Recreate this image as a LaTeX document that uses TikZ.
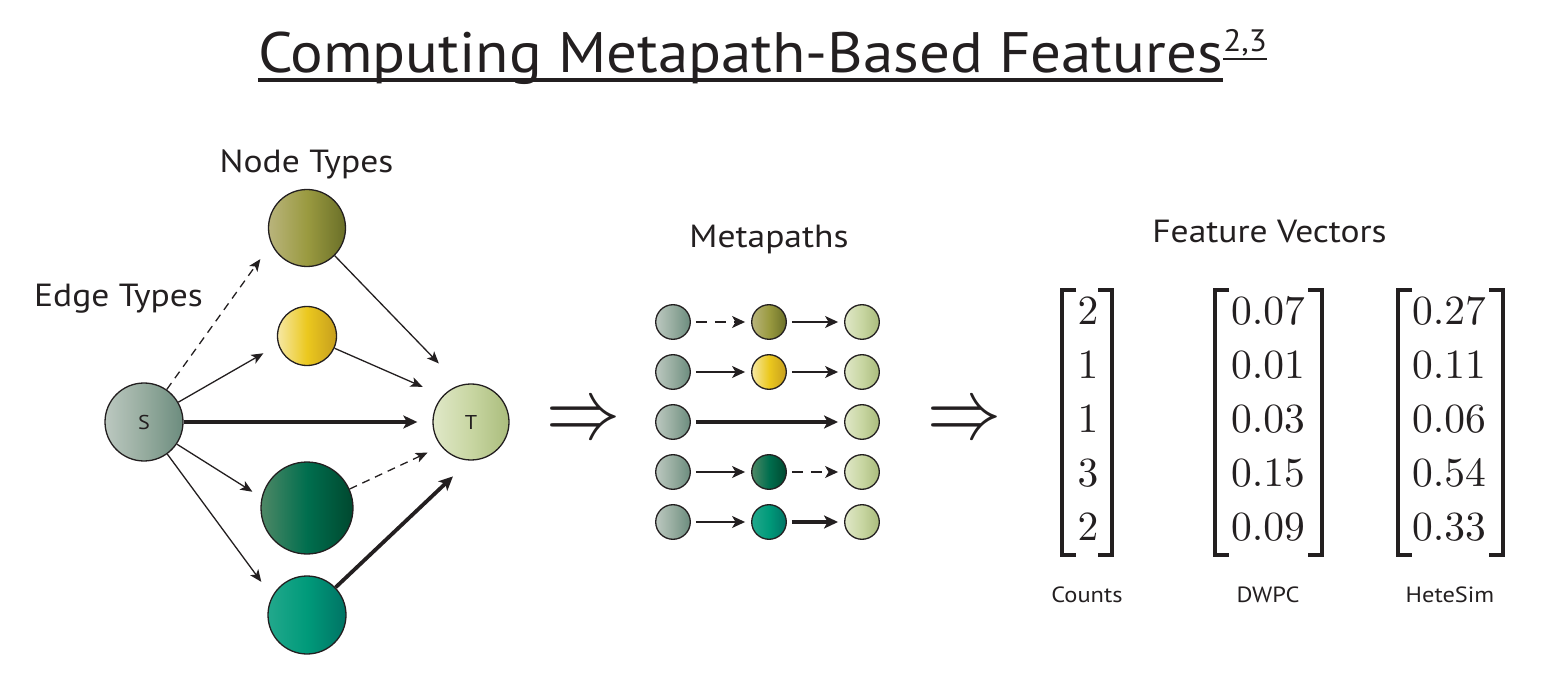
\documentclass[tikz,border=0pt]{standalone}
\usepackage[no-math]{fontspec}
\usepackage{graphicx}
\newfontfamily\lbl[FakeStretch=1.11]{PT Sans}
\newfontfamily\ttl[FakeStretch=1.07]{PT Sans}
\usetikzlibrary{arrows.meta}
\definecolor{sL}{HTML}{BCC8C0}\definecolor{sR}{HTML}{6C8C7E}\definecolor{sM}{HTML}{96AC9F}
\definecolor{oL}{HTML}{B9B47C}\definecolor{oM}{HTML}{9A9A40}\definecolor{oR}{HTML}{6A6F28}
\definecolor{yL}{HTML}{F6E8A4}\definecolor{yM}{HTML}{EBC81E}\definecolor{yR}{HTML}{C69E1E}
\definecolor{gL}{HTML}{4E8866}\definecolor{gM}{HTML}{006E4E}\definecolor{gR}{HTML}{00482F}
\definecolor{cL}{HTML}{22A88C}\definecolor{cM}{HTML}{009A7A}\definecolor{cR}{HTML}{007364}
\definecolor{tL}{HTML}{E0E8C8}\definecolor{tM}{HTML}{C8D6A2}\definecolor{tR}{HTML}{AABC7C}
\definecolor{ink}{HTML}{231F20}
\tikzset{
  nd/.style={circle, draw=ink, line width=1.3pt, inner sep=0pt, font=\lbl\fontsize{20}{20}\selectfont, text=ink},
  sN/.style={nd, left color=sL, right color=sR, middle color=sM},
  oN/.style={nd, left color=oL, right color=oR, middle color=oM},
  yN/.style={nd, left color=yL, right color=yR, middle color=yM},
  gN/.style={nd, left color=gL, right color=gR, middle color=gM},
  cN/.style={nd, left color=cL, right color=cR, middle color=cM},
  tN/.style={nd, left color=tL, right color=tR, middle color=tM},
  thinedge/.style={draw=ink, line width=1.3pt, -{Stealth[length=12pt,width=10pt,inset=3pt]}},
  thickedge/.style={draw=ink, line width=3.8pt, -{Stealth[length=14pt,width=13pt,inset=3.5pt]}},
  dashedge/.style={thinedge, dash pattern=on 8pt off 6pt},
  mpthin/.style={draw=ink, line width=1.3pt, -{Stealth[length=13pt,width=12pt,inset=3.5pt]}},
  mpdash/.style={mpthin, dash pattern=on 11pt off 8pt},
  head/.style={font=\lbl\fontsize{32}{32}\selectfont, text=ink, inner sep=0pt, anchor=base},
  small/.style={font=\lbl\fontsize{22}{22}\selectfont, text=ink, inner sep=0pt, anchor=base},
  num/.style={text=ink, inner sep=0pt, anchor=base},
  brk/.style={draw=ink, line width=4pt, line join=miter},
  impl/.style={text=ink, inner sep=0pt}
}
\newcommand{\vnum}[1]{\scalebox{4.15}{$#1$}}
\begin{document}
\begin{tikzpicture}[x=1pt,y=-1pt]
\useasboundingbox (0,0) rectangle (1545,684);
% title
\node[font=\ttl\fontsize{57}{57}\selectfont, text=ink, inner sep=0pt, anchor=base] (title) at (740.5,73) {Computing Metapath-Based Features};
\node[font=\ttl\fontsize{31}{31}\selectfont, text=ink, inner sep=0pt, anchor=base west] (sup) at ([yshift=21pt]title.base east) {2,3};
\draw[ink, line width=3.5pt] ([yshift=-7pt]title.base west) -- ([yshift=-7pt]title.base east);
\draw[ink, line width=1.2pt] ([yshift=-7pt]sup.base west) -- ([yshift=-7pt]sup.base east);

% headings
\node[head] (nodetypes) at (306.5,173) {Node Types};
\node[head] (edgetypes) at (118.5,307) {Edge Types};
\node[head] (metapaths) at (769,248) {Metapaths};
\node[head] (featvec) at (1269.5,243) {Feature Vectors};

% left graph
\node[sN, minimum size=78pt] (S) at (144,422) {S};
\node[oN, minimum size=77pt] (N1) at (307,228) {};
\node[yN, minimum size=59pt] (N2) at (307,336) {};
\node[gN, minimum size=92pt] (N3) at (307,508) {};
\node[cN, minimum size=78pt] (N4) at (307,615) {};
\node[tN, minimum size=76pt] (T) at (471,422) {T};

\draw[dashedge, shorten >=18.7pt] (S.55) -- (N1.204);
\draw[thinedge, shorten >=17pt] (S.30) -- (N2.197);
\draw[thickedge, shorten >=15pt] (S.0) -- (T.180);
\draw[thinedge, shorten >=10.8pt] (S.-34) -- (N3.167);
\draw[thinedge, shorten >=18pt] (S.-54) -- (N4.152);
\draw[thinedge, shorten >=30pt] (N1.-45) -- (T.107);
\draw[thinedge, shorten >=22pt] (N2.-24) -- (T.137);
\draw[dashedge, shorten >=14.7pt] (N3.24) -- (T.219);
\draw[thickedge, shorten >=23pt] (N4.44) -- (T.268);

% implies
\node[impl] (imp1) at (583.5,422.5) {\scalebox{7.4}[8.6]{$\Rightarrow$}};
\node[impl] (imp2) at (964.5,422.5) {\scalebox{7.4}[8.6]{$\Rightarrow$}};

% metapaths
\tikzset{mp/.style={minimum size=34.6pt}}
\node[sN,mp] (p11) at (673,322) {};
\node[oN,mp] (p12) at (769,322) {};
\node[tN,mp] (p13) at (862,322) {};
\node[sN,mp] (p21) at (673,372) {};
\node[yN,mp] (p22) at (769,372) {};
\node[tN,mp] (p23) at (862,372) {};
\node[sN,mp] (p31) at (673,422) {};
\node[tN,mp] (p33) at (862,422) {};
\node[sN,mp] (p41) at (673,472) {};
\node[gN,mp] (p42) at (769,472) {};
\node[tN,mp] (p43) at (862,472) {};
\node[sN,mp] (p51) at (673,522) {};
\node[cN,mp] (p52) at (769,522) {};
\node[tN,mp] (p53) at (862,522) {};
\begin{scope}[shorten <=5pt, shorten >=6pt]
\draw[mpdash] (p11) -- (p12);
\draw[mpthin] (p12) -- (p13);
\draw[mpthin] (p21) -- (p22);
\draw[mpthin] (p22) -- (p23);
\draw[thickedge] (p31) -- (p33);
\draw[mpthin] (p41) -- (p42);
\draw[mpdash] (p42) -- (p43);
\draw[mpthin] (p51) -- (p52);
\draw[thickedge] (p52) -- (p53);
\end{scope}

% brackets
\draw[brk] (1076,290) -- (1062,290) -- (1062,555) -- (1076,555);
\draw[brk] (1098,290) -- (1112,290) -- (1112,555) -- (1098,555);
\draw[brk] (1229,290) -- (1215,290) -- (1215,555) -- (1229,555);
\draw[brk] (1308,290) -- (1322,290) -- (1322,555) -- (1308,555);
\draw[brk] (1412,290) -- (1398,290) -- (1398,555) -- (1412,555);
\draw[brk] (1489,290) -- (1503,290) -- (1503,555) -- (1489,555);

% numbers
\node[num] (c1) at (1088,325) {\vnum{2}};
\node[num] (c2) at (1088,378.75) {\vnum{1}};
\node[num] (c3) at (1088,432.5) {\vnum{1}};
\node[num] (c4) at (1088,486.25) {\vnum{3}};
\node[num] (c5) at (1088,540) {\vnum{2}};
\node[num] (d1) at (1268,325) {\vnum{0.07}};
\node[num] (d2) at (1268,378.75) {\vnum{0.01}};
\node[num] (d3) at (1268,432.5) {\vnum{0.03}};
\node[num] (d4) at (1268,486.25) {\vnum{0.15}};
\node[num] (d5) at (1268,540) {\vnum{0.09}};
\node[num] (h1) at (1449,325) {\vnum{0.27}};
\node[num] (h2) at (1449,378.75) {\vnum{0.11}};
\node[num] (h3) at (1449,432.5) {\vnum{0.06}};
\node[num] (h4) at (1449,486.25) {\vnum{0.54}};
\node[num] (h5) at (1449,540) {\vnum{0.33}};

\node[small] (counts) at (1087,602) {Counts};
\node[small] (dwpc) at (1268,602) {DWPC};
\node[small] (hetesim) at (1450,602) {HeteSim};
\end{tikzpicture}
\end{document}
